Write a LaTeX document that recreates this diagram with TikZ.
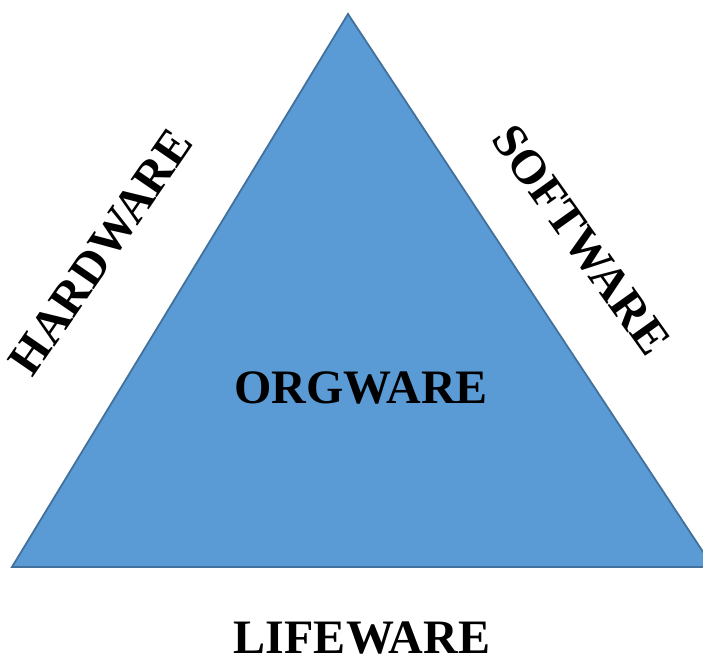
\documentclass[tikz,border=0pt]{standalone}
\usepackage{fontspec}
\setmainfont{Liberation Serif}
\tikzset{
  side label/.style={font=\bfseries\fontsize{48}{52}\selectfont, inner sep=0pt},
}
\definecolor{trifill}{HTML}{5B9BD5}
\definecolor{triline}{HTML}{41719C}
\begin{document}
\begin{tikzpicture}[x=1pt,y=1pt]
\useasboundingbox (0,0) rectangle (703,660);
\clip (0,0) rectangle (703,660);
% the triangle
\draw[fill=trifill, draw=triline, line width=1.8pt, line join=miter] (348,646) -- (12,93) -- (713,93) -- cycle;
\node[side label] (org) at (361,272) {ORGWARE};
\node[side label, rotate=55.5] (hard) at (101,408) {HARDWARE};
\node[side label, rotate=-54.5] (soft) at (581,420) {SOFTWARE};
\node[side label] (life) at (362,22) {LIFEWARE};
\end{tikzpicture}
\end{document}
